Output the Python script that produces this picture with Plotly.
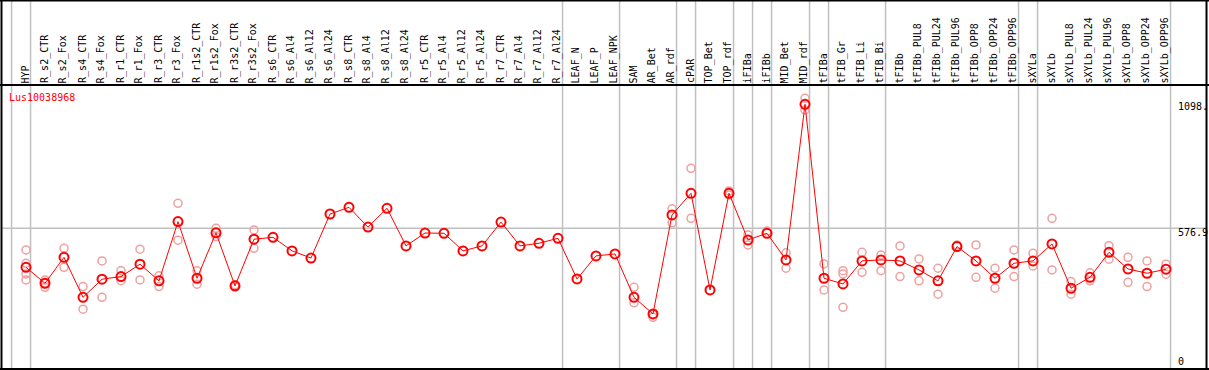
import plotly.graph_objects as go

categories = ["HYP", "R_s2_CTR", "R_s2_Fox", "R_s4_CTR", "R_s4_Fox", "R_r1_CTR", "R_r1_Fox",
              "R_r3_CTR", "R_r3_Fox", "R_r1s2_CTR", "R_r1s2_Fox", "R_r3s2_CTR", "R_r3s2_Fox",
              "R_s6_CTR", "R_s6_Al4", "R_s6_Al12", "R_s6_Al24", "R_s8_CTR", "R_s8_Al4",
              "R_s8_Al12", "R_s8_Al24", "R_r5_CTR", "R_r5_Al4", "R_r5_Al12", "R_r5_Al24",
              "R_r7_CTR", "R_r7_Al4", "R_r7_Al12", "R_r7_Al24", "LEAF_N", "LEAF_P", "LEAF_NPK",
              "SAM", "AR_Bet", "AR_rdf", "cPAR", "TOP_Bet", "TOP_rdf", "iFIBa", "iFIBb",
              "MID_Bet", "MID_rdf", "tFIBa", "tFIB_Gr", "tFIB_Li", "tFIB_Bi", "tFIBb",
              "tFIBb_PUL8", "tFIBb_PUL24", "tFIBb_PUL96", "tFIBb_OPP8", "tFIBb_OPP24",
              "tFIBb_OPP96", "sXYLa", "sXYLb", "sXYLb_PUL8", "sXYLb_PUL24", "sXYLb_PUL96",
              "sXYLb_OPP8", "sXYLb_OPP24", "sXYLb_OPP96"]

means = [413, 346, 455, 287, 363, 374, 426, 356, 605, 367, 558, 335, 531,
         539, 482, 452, 637, 665, 582, 661, 503, 557, 556, 482, 503,
         603, 503, 514, 535, 364, 461, 469,
         287, 217, 633, 724, 318, 724, 528, 556, 444, 1098,
         367, 343, 440, 444, 440, 402, 356, 500, 440, 367, 430,
         440, 511, 325, 371, 476, 406, 388, 405]

replicates = [
    [486, 430, 385, 360], [360, 346, 329], [493, 413], [332, 237], [440, 287],
    [399, 357], [489, 360], [377, 332], [682, 527], [399, 342], [577, 542],
    [340, 330], [570, 493],
    [], [], [], [], [], [], [], [], [], [], [], [], [], [], [], [], [], [], [],
    [329, 264], [203, 215], [659, 600], [829, 619], [], [734, 717], [549, 507],
    [566], [474, 409], [1123, 1074],
    [427, 318], [399, 385, 245], [476, 392], [465, 399], [503, 374], [448, 356],
    [409, 300], [507], [507, 371], [409, 325], [486, 374],
    [472, 419], [619, 402], [353, 300], [390, 356], [504, 447], [455, 350],
    [440, 332], [426, 384],
]

group_ends = [-1, 0, 28, 31, 34, 35, 37, 38, 39, 41, 42, 45, 52, 53, 60]
ref_value = 576.9
gene_label = "Lus10038968"
right_labels = ["1098.", "576.9", "0"]

W, H = 1209, 370
x0_px, step_px = 26.0, 19.0
y0_px, k_px = 365.6, 0.238

xs = list(range(len(categories)))
rep_x, rep_y = [], []
for i, reps in enumerate(replicates):
    for v in reps:
        rep_x.append(i)
        rep_y.append(v)

fig = go.Figure()
fig.add_trace(go.Scatter(x=rep_x, y=rep_y, mode="markers",
                         marker=dict(symbol="circle-open", size=8, color="rgb(240,160,160)",
                                     line=dict(width=1.5, color="rgb(240,160,160)")),
                         showlegend=False, hoverinfo="skip"))
fig.add_trace(go.Scatter(x=xs, y=means, mode="lines+markers",
                         line=dict(color="#ff0000", width=1),
                         marker=dict(symbol="circle-open", size=9, color="#ff0000",
                                     line=dict(width=2, color="#ff0000")),
                         showlegend=False))

shapes = []
shapes.append(dict(type="line", xref="paper", yref="y", x0=1 / W, x1=1207 / W,
                   y0=ref_value, y1=ref_value, line=dict(color="#c0c0c0", width=1.5),
                   layer="below"))
for g in group_ends:
    gx = g + 0.24
    shapes.append(dict(type="line", xref="x", yref="paper", x0=gx, x1=gx, y0=0, y1=1,
                       line=dict(color="#c0c0c0", width=1.5), layer="below"))
black = dict(color="black", width=2)
shapes.append(dict(type="line", xref="paper", yref="paper", x0=0, x1=1, y0=1 - 0.5 / H, y1=1 - 0.5 / H, line=black))
shapes.append(dict(type="line", xref="paper", yref="paper", x0=0, x1=1, y0=1 - 85 / H, y1=1 - 85 / H, line=black))
shapes.append(dict(type="line", xref="paper", yref="paper", x0=0, x1=1, y0=1 / H, y1=1 / H, line=black))
shapes.append(dict(type="line", xref="paper", yref="paper", x0=1.5 / W, x1=1.5 / W, y0=0, y1=1, line=black))
shapes.append(dict(type="line", xref="paper", yref="paper", x0=1206.5 / W, x1=1206.5 / W, y0=0, y1=1, line=black))

font = dict(family="DejaVu Sans Mono", size=10, color="black")
annotations = []
for i, c in enumerate(categories):
    annotations.append(dict(x=i - 0.03, xref="x", y=1 - 84 / H, yref="paper", text=c,
                            textangle=-90, showarrow=False, xanchor="center", yanchor="bottom",
                            font=font, borderpad=0))
annotations.append(dict(x=8 / W, xref="paper", y=1 - 97.5 / H, yref="paper", text=gene_label,
                        showarrow=False, xanchor="left", yanchor="middle",
                        font=dict(family="DejaVu Sans Mono", size=10, color="red"), borderpad=0))
label_y = [106.5, 232, 361]
for t, yy in zip(right_labels, label_y):
    annotations.append(dict(x=1177 / W, xref="paper", y=1 - yy / H, yref="paper", text=t,
                            showarrow=False, xanchor="left", yanchor="middle",
                            font=font, borderpad=0))

fig.update_layout(
    width=W, height=H, margin=dict(l=0, r=0, t=0, b=0),
    paper_bgcolor="white", plot_bgcolor="white",
    xaxis=dict(range=[-x0_px / step_px, (W - x0_px) / step_px], visible=False, fixedrange=True),
    yaxis=dict(range=[(y0_px - H) / k_px, y0_px / k_px], visible=False, fixedrange=True),
    shapes=shapes, annotations=annotations, showlegend=False,
)

fig.write_html("out.html", config={"displayModeBar": False},
               post_script="document.body.style.margin='0';document.body.style.overflow='hidden';")
